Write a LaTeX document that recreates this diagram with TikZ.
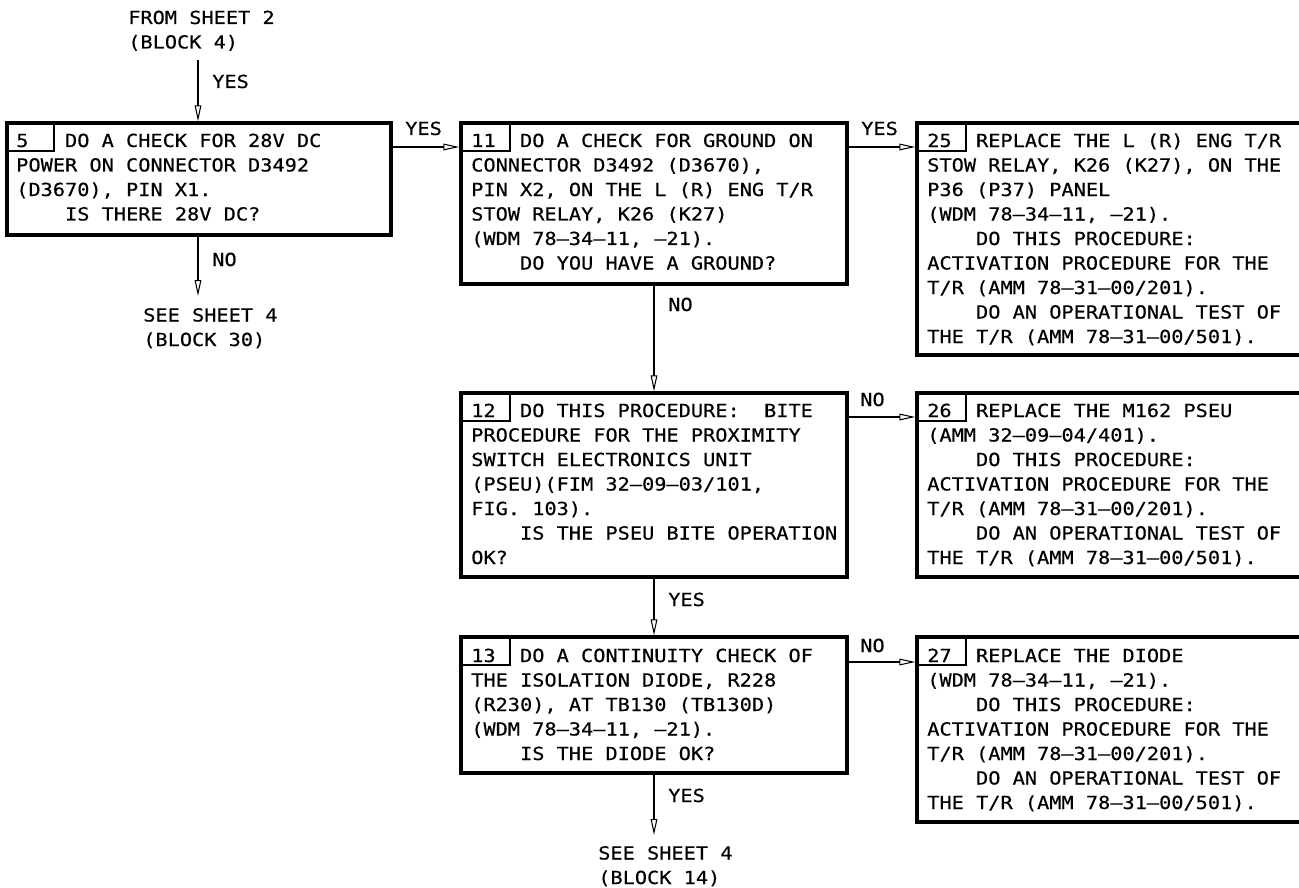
\documentclass[tikz,border=0pt]{standalone}
\usepackage{fontspec}
\newfontfamily\dmono[FakeStretch=1.126,FakeBold=0.4]{DejaVu Sans Mono}
\usetikzlibrary{arrows.meta,fit}
\newcommand\ind{\phantom{XXXX}}
\newcommand\tn[1]{\makebox[0pt][l]{#1}\phantom{XXXX}}
\tikzset{
  blk/.style={draw, line width=2.4pt, inner sep=0pt},
  tabbox/.style={draw, line width=0.8pt, inner sep=0pt},
  txt/.style={anchor=base west, inner sep=0pt, align=left,
    font=\dmono\fontsize{13.5pt}{18.375pt}\selectfont},
  arr/.style={line width=0.8pt,
    -{Triangle[open, length=12pt, width=5pt, line width=0.8pt]}},
}
\begin{document}
\begin{tikzpicture}[x=0.75pt, y=-0.75pt]
\useasboundingbox (0,0) rectangle (1299,888);
\clip (0,0) rectangle (1299,888);

% ---------- blocks (text nodes anchored at the baseline of their last line) ----------
\node[blk, fit={(7,123) (391,235)}] (b5) {};
\node[tabbox, fit={(7,123) (54,151)}] (t5) {};
\node[txt] (x5) at (16,220.5) {\tn{5}DO A CHECK FOR 28V DC\\POWER ON CONNECTOR D3492\\(D3670), PIN X1.\\\ind IS THERE 28V DC?};

\node[blk, fit={(461,123) (847,284)}] (b11) {};
\node[tabbox, fit={(461,123) (510,151)}] (t11) {};
\node[txt] (x11) at (471,269.5) {\tn{11}DO A CHECK FOR GROUND ON\\CONNECTOR D3492 (D3670),\\PIN X2, ON THE L (R) ENG T/R\\STOW RELAY, K26 (K27)\\(WDM 78–34–11, –21).\\\ind DO YOU HAVE A GROUND?};

\node[blk, fit={(917,123) (1340,355)}] (b25) {};
\node[tabbox, fit={(917,123) (966,151)}] (t25) {};
\node[txt] (x25) at (927,343) {\tn{25}REPLACE THE L (R) ENG T/R\\STOW RELAY, K26 (K27), ON THE\\P36 (P37) PANEL\\(WDM 78–34–11, –21).\\\ind DO THIS PROCEDURE:\\ACTIVATION PROCEDURE FOR THE\\T/R (AMM 78–31–00/201).\\\ind DO AN OPERATIONAL TEST OF\\THE T/R (AMM 78–31–00/501).};

\node[blk, fit={(461,393) (847,577)}] (b12) {};
\node[tabbox, fit={(461,393) (510,421)}] (t12) {};
\node[txt] (x12) at (471,564) {\tn{12}DO THIS PROCEDURE:\ \ BITE\\PROCEDURE FOR THE PROXIMITY\\SWITCH ELECTRONICS UNIT\\(PSEU)(FIM 32–09–03/101,\\FIG. 103).\\\ind IS THE PSEU BITE OPERATION\\OK?};

\node[blk, fit={(917,393) (1340,577)}] (b26) {};
\node[tabbox, fit={(917,393) (966,421)}] (t26) {};
\node[txt] (x26) at (927,564) {\tn{26}REPLACE THE M162 PSEU\\(AMM 32–09–04/401).\\\ind DO THIS PROCEDURE:\\ACTIVATION PROCEDURE FOR THE\\T/R (AMM 78–31–00/201).\\\ind DO AN OPERATIONAL TEST OF\\THE T/R (AMM 78–31–00/501).};

\node[blk, fit={(461,637) (847,773)}] (b13) {};
\node[tabbox, fit={(461,637) (510,665)}] (t13) {};
\node[txt] (x13) at (471,760) {\tn{13}DO A CONTINUITY CHECK OF\\THE ISOLATION DIODE, R228\\(R230), AT TB130 (TB130D)\\(WDM 78–34–11, –21).\\\ind IS THE DIODE OK?};

\node[blk, fit={(917,637) (1340,822)}] (b27) {};
\node[tabbox, fit={(917,637) (966,665)}] (t27) {};
\node[txt] (x27) at (927,809) {\tn{27}REPLACE THE DIODE\\(WDM 78–34–11, –21).\\\ind DO THIS PROCEDURE:\\ACTIVATION PROCEDURE FOR THE\\T/R (AMM 78–31–00/201).\\\ind DO AN OPERATIONAL TEST OF\\THE T/R (AMM 78–31–00/501).};

% ---------- off-sheet references ----------
\node[txt] (from2) at (128,48.5) {FROM SHEET 2\\(BLOCK 4)};
\node[txt] (see30) at (143,346) {SEE SHEET 4\\(BLOCK 30)};
\node[txt] (see14) at (598,884) {SEE SHEET 4\\(BLOCK 14)};

\coordinate (c0) at (198,60);
\coordinate (c30) at (198,296);
\coordinate (c14) at (654,835);
\coordinate (r1) at (0,147);
\coordinate (r2) at (0,417);
\coordinate (r3) at (0,662);

% ---------- connectors ----------
\draw[arr] (c0) -- (c0 |- b5.north);
\draw[arr] (b5.south -| c0) -- (c30);
\draw[arr] (b5.east |- r1) -- (b11.west |- r1);
\draw[arr] (b11.east |- r1) -- (b25.west |- r1);
\draw[arr] (b11.south) -- (b12.north);
\draw[arr] (b12.east |- r2) -- (b26.west |- r2);
\draw[arr] (b12.south) -- (b13.north);
\draw[arr] (b13.east |- r3) -- (b27.west |- r3);
\draw[arr] (b13.south) -- (c14);

% ---------- labels ----------
\node[txt] (l1) at (212,88) {YES};
\node[txt] (l2) at (212,266) {NO};
\node[txt] (l3) at (405,135) {YES};
\node[txt] (l4) at (861,135) {YES};
\node[txt] (l5) at (668,311) {NO};
\node[txt] (l6) at (860,406) {NO};
\node[txt] (l7) at (668,606) {YES};
\node[txt] (l8) at (860,652) {NO};
\node[txt] (l9) at (668,802) {YES};
\end{tikzpicture}
\end{document}
